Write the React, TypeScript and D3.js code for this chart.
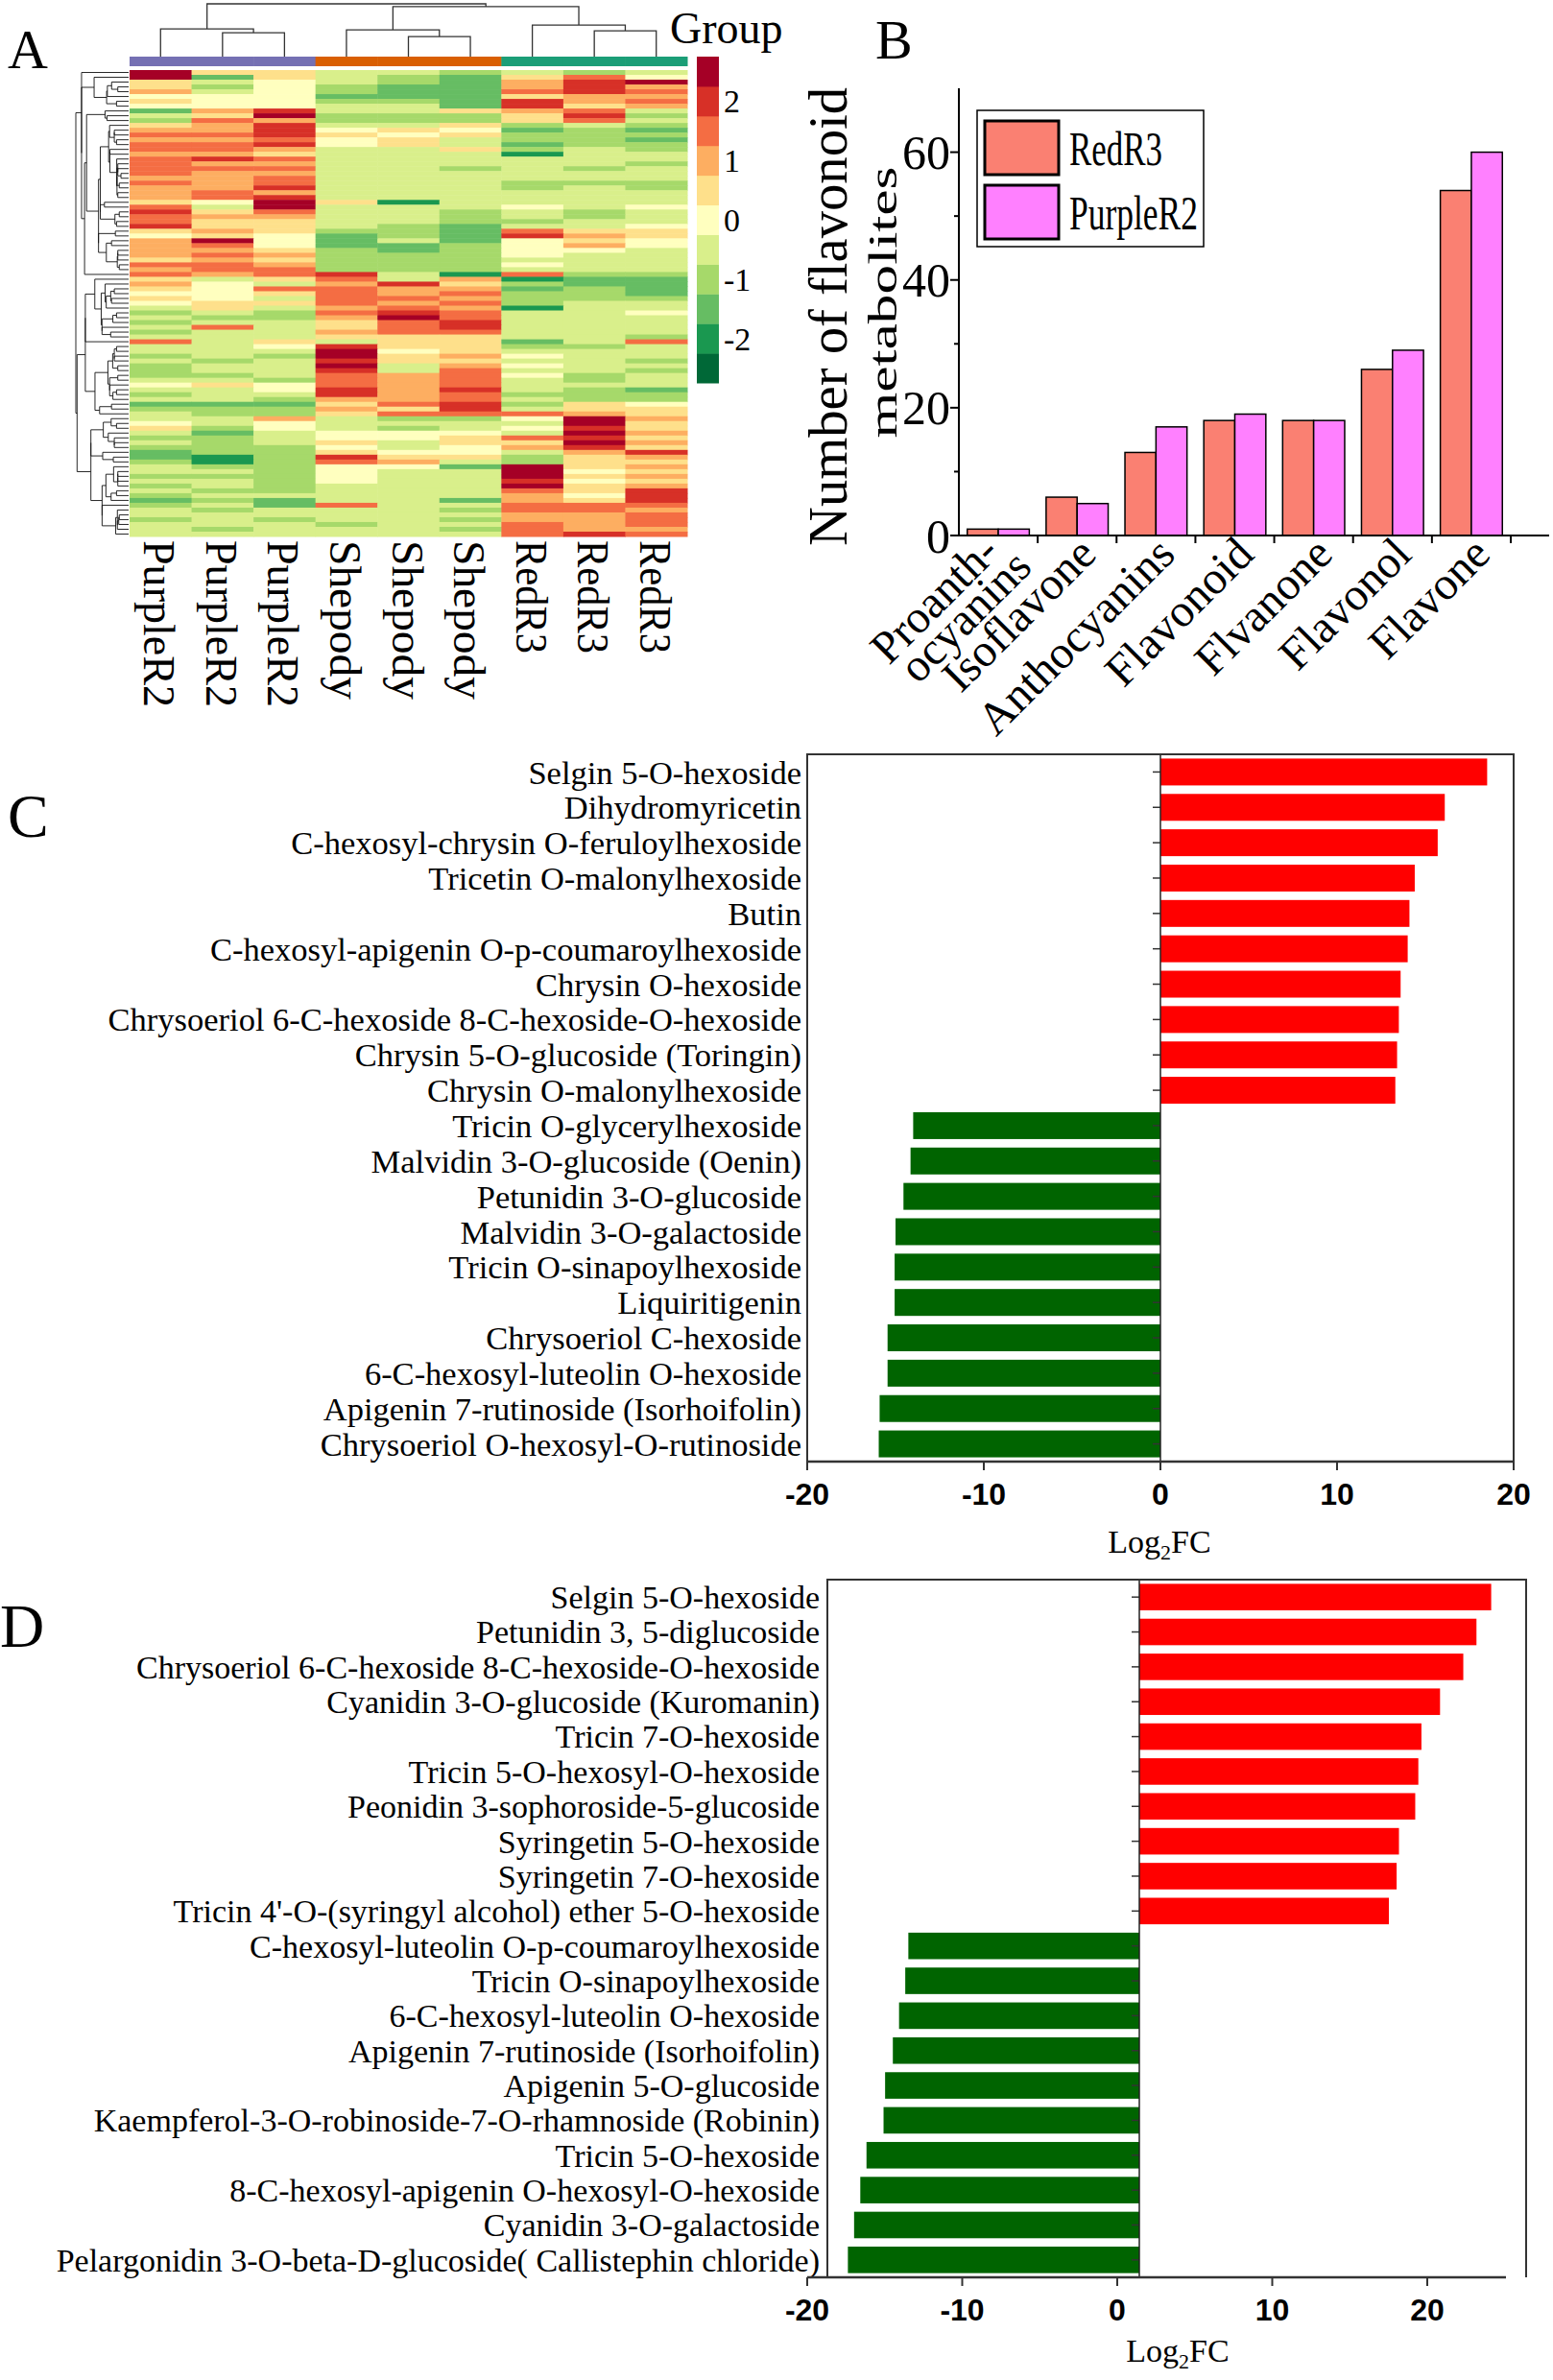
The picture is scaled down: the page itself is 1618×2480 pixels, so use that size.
import React from 'react';
import * as d3 from 'd3';

const SERIF = "'Liberation Serif','Times New Roman',serif";
const SANS = "'Liberation Sans',Arial,sans-serif";

// ---------------- Panel A data ----------------
const sampleNames = ['PurpleR2', 'PurpleR2', 'PurpleR2', 'Shepody', 'Shepody', 'Shepody', 'RedR3', 'RedR3', 'RedR3'];
const sampleGroup = [0, 0, 0, 1, 1, 1, 2, 2, 2];
const groupColors = ['#7570B3', '#D95F02', '#1B9E77'];
const heatColors = ['#006837', '#1A9850', '#66BD63', '#A6D96A', '#D9EF8B', '#FFFFBF', '#FEE08B', '#FDAE61', '#F46D43', '#D73027', '#A50026'];
const heatLevelCodes = 'abcdefghijk';
const heatLevelValues = [-2.5, -2, -1.5, -1, -0.5, 0, 0.5, 1, 1.5, 2, 2.5];
const colorbarTicks = [2, 1, 0, -1, -2];
// one string per metabolite row, one code per sample (a = -2.5 ... k = +2.5)
const heatRows = [
  'kggeedede', 'kcgedcgif', 'gefedchjk', 'gdfdcchjh', 'hefdcciji', 'fffcccghh', 'gffddcjhi', 'fffeecjgh',
  'chjeeghie', 'egkdddgjd', 'dihdddgie', 'ghjeegded', 'hhjfgfcdc', 'iijgfgddd', 'hhifgeddc', 'iijfgecdd',
  'iiheegded', 'hhgeeebee', 'ijieeeeee', 'ihheeeeed', 'iiieedede', 'ihheeeeee', 'hhieeeeee', 'ihieeeddd',
  'hhjeeeded', 'hiheeeeee', 'hijeeeeee', 'gfkgbeeee', 'iekeeefef', 'jgieedede', 'ihheedede', 'iggeeddee',
  'jggedceef', 'ghgddcigg', 'fgfcdcjhg', 'hkfcecfgf', 'hifccdfhf', 'hhgdcdffe', 'hihdddfee', 'ghgdddeee',
  'iihdddfee', 'hiidddeee', 'ihijebidd', 'gegiehbcc', 'hfehjgdcc', 'gfiihhcdc', 'ffgihiddc', 'gfeiihddd',
  'fggihidee', 'egehihbee', 'dedijieef', 'eddhkieee', 'deegijeee', 'eiegijeee', 'deehiieee', 'eeegggeed',
  'iegeggcei', 'eefjggdde', 'eeekfgeee', 'dedkghfee', 'edejggeed', 'deekehfee', 'deejeieed', 'ddeihifde',
  'eedihiede', 'fgfihieee', 'eefjhjedc', 'deejhiddd', 'eedhhiedd', 'cccgijdgf', 'dddhgjegg', 'eddgiiihg',
  'eeheddfkh', 'fefeeeekg', 'gdfedefjg', 'ecefffekh', 'ddeffgijg', 'edegeggkh', 'dddfefhjg', 'cddgffehj',
  'cbdjggdgh', 'dbdihedgg', 'eddffckgh', 'eedfeekfg', 'dddfeekgh', 'eedfeejfg', 'dedeeekgh', 'eddeeeigj',
  'deeeeehfj', 'cdceechgj', 'decieeiii', 'edeeediih', 'eeeeeehhi', 'dedeedhhi', 'eeedeeihi', 'edeeedihh',
  'eeeeeeiji',
];
// sample clustering (merge heights, arbitrary units)
const colDendrogram: any = {
  height: 55.2,
  children: [
    { height: 29, children: [{ leaf: 0 }, { height: 25, children: [{ leaf: 1 }, { leaf: 2 }] }] },
    {
      height: 52.4,
      children: [
        { height: 28, children: [{ leaf: 3 }, { height: 21, children: [{ leaf: 4 }, { leaf: 5 }] }] },
        { height: 33, children: [{ leaf: 6 }, { height: 27, children: [{ leaf: 7 }, { leaf: 8 }] }] },
      ],
    },
  ],
};

// ---------------- Panel B data ----------------
const flavClasses = ['Proanth-\nocyanins', 'Isoflavone', 'Anthocyanins', 'Flavonoid', 'Flvanone', 'Flavonol', 'Flavone'];
const redR3Counts = [1, 6, 13, 18, 18, 26, 54];
const purpleR2Counts = [1, 5, 17, 19, 18, 29, 60];
const bSeriesNames = ['RedR3', 'PurpleR2'];
const bSeriesColors = ['#FA8072', '#FF80FF'];
const bMajorTicks = [0, 20, 40, 60];
const bMinorTicks = [10, 30, 50];

// ---------------- Panel C data ----------------
const cNames = [
  'Selgin 5-O-hexoside', 'Dihydromyricetin', 'C-hexosyl-chrysin O-feruloylhexoside', 'Tricetin O-malonylhexoside',
  'Butin', 'C-hexosyl-apigenin O-p-coumaroylhexoside', 'Chrysin O-hexoside',
  'Chrysoeriol 6-C-hexoside 8-C-hexoside-O-hexoside', 'Chrysin 5-O-glucoside (Toringin)', 'Chrysin O-malonylhexoside',
  'Tricin O-glycerylhexoside', 'Malvidin 3-O-glucoside (Oenin)', 'Petunidin 3-O-glucoside', 'Malvidin 3-O-galactoside',
  'Tricin O-sinapoylhexoside', 'Liquiritigenin', 'Chrysoeriol C-hexoside', '6-C-hexosyl-luteolin O-hexoside',
  'Apigenin 7-rutinoside (Isorhoifolin)', 'Chrysoeriol O-hexosyl-O-rutinoside',
];
const cLog2FC = [18.5, 16.1, 15.7, 14.4, 14.1, 14.0, 13.6, 13.5, 13.4, 13.3, -14.0, -14.15, -14.55, -15.0, -15.05, -15.05, -15.45, -15.45, -15.9, -15.95];

// ---------------- Panel D data ----------------
const dNames = [
  'Selgin 5-O-hexoside', 'Petunidin 3, 5-diglucoside', 'Chrysoeriol 6-C-hexoside 8-C-hexoside-O-hexoside',
  'Cyanidin 3-O-glucoside (Kuromanin)', 'Tricin 7-O-hexoside', 'Tricin 5-O-hexosyl-O-hexoside',
  'Peonidin 3-sophoroside-5-glucoside', 'Syringetin 5-O-hexoside', 'Syringetin 7-O-hexoside',
  "Tricin 4'-O-(syringyl alcohol) ether 5-O-hexoside", 'C-hexosyl-luteolin O-p-coumaroylhexoside',
  'Tricin O-sinapoylhexoside', '6-C-hexosyl-luteolin O-hexoside', 'Apigenin 7-rutinoside (Isorhoifolin)',
  'Apigenin 5-O-glucoside', 'Kaempferol-3-O-robinoside-7-O-rhamnoside (Robinin)', 'Tricin 5-O-hexoside',
  '8-C-hexosyl-apigenin O-hexosyl-O-hexoside', 'Cyanidin 3-O-galactoside',
  'Pelargonidin 3-O-beta-D-glucoside( Callistephin chloride)',
];
const dLog2FC = [22.7, 21.75, 20.9, 19.4, 18.2, 18.0, 17.8, 16.75, 16.6, 16.1, -14.9, -15.1, -15.5, -15.9, -16.4, -16.5, -17.6, -18.0, -18.4, -18.8];

const fcTicks = [-20, -10, 0, 10, 20];
const upColor = '#FF0000';
const downColor = '#006400';

// ---------------- helpers ----------------
function orderedClustering(mat: number[][]) {
  const D = mat.map((a) => mat.map((b) => Math.sqrt(d3.sum(a, (v, i) => (v - b[i]) ** 2))));
  let cl: any[] = mat.map((_, i) => ({ members: [i], h: 0, idx: i }));
  while (cl.length > 1) {
    let bi = 0;
    let bd = Infinity;
    for (let i = 0; i < cl.length - 1; i++) {
      const A = cl[i].members;
      const B = cl[i + 1].members;
      let s = 0;
      for (const a of A) for (const b of B) s += D[a][b];
      const d = s / (A.length * B.length);
      if (d < bd) { bd = d; bi = i; }
    }
    const l = cl[bi];
    const r = cl[bi + 1];
    cl.splice(bi, 2, { members: [...l.members, ...r.members], h: Math.max(bd, l.h, r.h), left: l, right: r });
  }
  return cl[0];
}

function PanelA() {
  const values = heatRows.map((s) => s.split('').map((c) => heatLevelValues[heatLevelCodes.indexOf(c)]));
  const xCol = d3.scaleBand<number>().domain(d3.range(9)).range([135, 716]);
  const yRow = d3.scaleBand<number>().domain(d3.range(values.length)).range([73, 559]);
  const color = d3.scaleQuantize<string>().domain([-2.75, 2.75]).range(heatColors);

  const cells: any[] = [];
  values.forEach((row, ri) =>
    row.forEach((v, ci) =>
      cells.push(
        <rect key={`c${ri}-${ci}`} x={xCol(ci)} y={yRow(ri)} width={xCol.bandwidth() + 0.5} height={yRow.bandwidth() + 0.5} fill={color(v)} />
      )
    )
  );

  // row dendrogram
  const root = orderedClustering(values);
  const xDen = d3.scaleLinear().domain([0, root.h]).range([134, 79]);
  const rowSegs: any[] = [];
  const walk = (n: any): number => {
    if (n.idx !== undefined) return (yRow(n.idx) as number) + yRow.bandwidth() / 2;
    const yl = walk(n.left);
    const yr = walk(n.right);
    const x = xDen(n.h);
    rowSegs.push(`M${x},${yl}V${yr}`);
    rowSegs.push(`M${x},${yl}H${xDen(n.left.h)}`);
    rowSegs.push(`M${x},${yr}H${xDen(n.right.h)}`);
    return (yl + yr) / 2;
  };
  walk(root);

  // column dendrogram
  const yDen = d3.scaleLinear().domain([0, 55.2]).range([59, 4]);
  const colSegs: string[] = [];
  const walkCol = (n: any): { x: number; y: number } => {
    if (n.leaf !== undefined) return { x: (xCol(n.leaf) as number) + xCol.bandwidth() / 2, y: yDen(0) };
    const a = walkCol(n.children[0]);
    const b = walkCol(n.children[1]);
    const y = yDen(n.height);
    colSegs.push(`M${a.x},${a.y}V${y}H${b.x}V${b.y}`);
    return { x: (a.x + b.x) / 2, y };
  };
  walkCol(colDendrogram);

  const yLeg = d3.scaleLinear().domain([-2.75, 2.75]).range([399, 59]);
  const labelLen: Record<string, number> = { PurpleR2: 174, Shepody: 166, RedR3: 118 };

  return (
    <g>
      <text x={8} y={71} fontSize={58} fontFamily={SERIF}>A</text>
      <path d={colSegs.join('')} fill="none" stroke="#333" strokeWidth={1.3} />
      {sampleGroup.map((g, i) => (
        <rect key={`g${i}`} x={xCol(i)} y={59} width={xCol.bandwidth() + 0.5} height={10} fill={groupColors[g]} />
      ))}
      {cells}
      <path d={rowSegs.join('')} fill="none" stroke="#111" strokeWidth={0.9} />
      {heatColors.map((c, i) => (
        <rect key={`lb${i}`} x={726} width={23} y={yLeg(-2.75 + 0.5 * (i + 1))} height={yLeg(-2.75 + 0.5 * i) - yLeg(-2.75 + 0.5 * (i + 1)) + 0.5} fill={c} />
      ))}
      {colorbarTicks.map((t) => (
        <text key={`lt${t}`} x={754} y={yLeg(t)} dy="0.35em" fontSize={34} fontFamily={SERIF}>{t}</text>
      ))}
      <text x={698} y={45} fontSize={46} fontFamily={SERIF}>Group</text>
      {sampleNames.map((s, i) => (
        <text
          key={`sn${i}`}
          transform={`translate(${(xCol(i) as number) + xCol.bandwidth() / 2 - 17},563) rotate(90)`}
          fontSize={46}
          fontFamily={SERIF}
          textLength={labelLen[s]}
          lengthAdjust="spacingAndGlyphs"
        >
          {s}
        </text>
      ))}
    </g>
  );
}

function PanelB() {
  const x0 = d3.scaleBand<string>().domain(flavClasses).range([999, 1574]).paddingInner(0.213).paddingOuter(0.1065);
  const x1 = d3.scaleBand<string>().domain(bSeriesNames).range([0, x0.bandwidth()]);
  const y = d3.scaleLinear().domain([0, 70]).range([558, 92]);
  const series = [redR3Counts, purpleR2Counts];
  const y0 = y(0);
  return (
    <g>
      <text x={912} y={61} fontSize={58} fontFamily={SERIF}>B</text>
      {flavClasses.map((c, ci) =>
        series.map((vals, si) => (
          <rect
            key={`b${ci}-${si}`}
            x={(x0(c) as number) + (x1(bSeriesNames[si]) as number)}
            y={y(vals[ci])}
            width={x1.bandwidth()}
            height={y0 - y(vals[ci])}
            fill={bSeriesColors[si]}
            stroke="#000"
            strokeWidth={1.5}
          />
        ))
      )}
      {/* axes */}
      <line x1={999} x2={999} y1={y(70)} y2={y0} stroke="#000" strokeWidth={2} />
      <line x1={999} x2={1614} y1={y0} y2={y0} stroke="#000" strokeWidth={2} />
      {bMajorTicks.map((t) => (
        <g key={`bt${t}`}>
          <line x1={990} x2={999} y1={y(t)} y2={y(t)} stroke="#000" strokeWidth={2} />
          <text x={990} y={y(t)} dy="0.35em" textAnchor="end" fontSize={50} fontFamily={SERIF}>{t}</text>
        </g>
      ))}
      {bMinorTicks.map((t) => (
        <line key={`bm${t}`} x1={994} x2={999} y1={y(t)} y2={y(t)} stroke="#000" strokeWidth={2} />
      ))}
      {flavClasses.map((c, i) => (
        <line key={`bx${i}`} x1={(x0(c) as number) + x0.step() * (1 - 0.1065)} x2={(x0(c) as number) + x0.step() * (1 - 0.1065)} y1={y0} y2={y0 + 8} stroke="#000" strokeWidth={2} />
      ))}
      {flavClasses.map((c, i) => {
        const cx = (x0(c) as number) + x0.bandwidth() / 2;
        const lines = c.split('\n');
        return lines.map((ln, k) => {
          const ox = lines.length > 1 ? (k === 0 ? -19 : 15) : 0;
          const oy = lines.length > 1 ? (k === 0 ? -3 : 13) : 0;
          return (
            <text
              key={`bl${i}-${k}`}
              transform={`translate(${cx + 22 + ox},${y0 + 22 + oy}) rotate(-45)`}
              textAnchor="end"
              fontSize={48}
              fontFamily={SERIF}
            >
              {ln}
            </text>
          );
        });
      })}
      <text transform={`translate(882,330) rotate(-90)`} textAnchor="middle" fontSize={56} fontFamily={SERIF} textLength={478} lengthAdjust="spacingAndGlyphs">
        Number of flavonoid
      </text>
      <text transform={`translate(934,315) rotate(-90)`} textAnchor="middle" fontSize={42} fontFamily={SERIF} textLength={283} lengthAdjust="spacingAndGlyphs">
        metabolites
      </text>
      {/* legend */}
      <rect x={1018} y={115} width={236} height={142} fill="#fff" stroke="#000" strokeWidth={1.5} />
      {bSeriesNames.map((s, i) => (
        <g key={`lg${i}`}>
          <rect x={1026} y={126 + i * 67} width={77} height={56} fill={bSeriesColors[i]} stroke="#000" strokeWidth={3} />
          <text x={1114} y={172 + i * 67} fontSize={51} fontFamily={SERIF} textLength={s === 'RedR3' ? 97 : 134} lengthAdjust="spacingAndGlyphs">
            {s}
          </text>
        </g>
      ))}
    </g>
  );
}

function FCPanel(props: {
  letter: string; letterX: number; letterY: number; names: string[]; values: number[];
  axisX: [number, number]; axisEnd: number; frameL: number; frameR: number; top: number; bottom: number;
  barShift: number; labelRight: number; labelSize: number; titleX: number; titleDy: number;
}) {
  const { letter, letterX, letterY, names, values, axisX, axisEnd, frameL, frameR, top, bottom, barShift, labelRight, labelSize, titleX, titleDy } = props;
  const x = d3.scaleLinear().domain([-20, 20]).range(axisX);
  const y = d3.scaleBand<number>().domain(d3.range(names.length)).range([top, bottom]).paddingInner(0.24).paddingOuter(0.12);
  const xb = (v: number) => x(v) + barShift;
  const zero = xb(0);
  return (
    <g>
      <text x={letterX} y={letterY} fontSize={64} fontFamily={SERIF}>{letter}</text>
      {values.map((v, i) => (
        <rect
          key={`r${i}`}
          x={Math.min(zero, xb(v))}
          y={y(i)}
          width={Math.abs(xb(v) - zero)}
          height={y.bandwidth()}
          fill={v >= 0 ? upColor : downColor}
        />
      ))}
      {names.map((n, i) => (
        <g key={`n${i}`}>
          <line x1={zero - 8} x2={zero} y1={(y(i) as number) + y.bandwidth() / 2} y2={(y(i) as number) + y.bandwidth() / 2} stroke="#333" strokeWidth={1.5} />
          <text x={labelRight} y={(y(i) as number) + y.bandwidth() / 2} dy="0.35em" textAnchor="end" fontSize={labelSize} fontFamily={SERIF}>{n}</text>
        </g>
      ))}
      <line x1={zero} x2={zero} y1={top} y2={bottom} stroke="#222" strokeWidth={1.5} />
      <path d={`M${frameL},${bottom}V${top}H${frameR}V${bottom}`} fill="none" stroke="#333" strokeWidth={2} />
      <line x1={axisX[0]} x2={axisEnd} y1={bottom} y2={bottom} stroke="#333" strokeWidth={2.5} />
      {fcTicks.map((t) => (
        <g key={`t${t}`}>
          <line x1={x(t)} x2={x(t)} y1={bottom} y2={bottom + 9} stroke="#333" strokeWidth={2} />
          <text x={x(t)} y={bottom + 34} dy="0.35em" textAnchor="middle" fontSize={32} fontWeight="bold" fontFamily={SANS}>{t}</text>
        </g>
      ))}
      <text x={titleX} y={bottom + titleDy} textAnchor="middle" fontSize={34} fontFamily={SERIF}>
        Log<tspan fontSize={22} dy={7}>2</tspan><tspan dy={-7}>FC</tspan>
      </text>
    </g>
  );
}

export default function App() {
  return (
    <svg width={1618} height={2480} style={{ position: 'absolute', left: 0, top: 0, background: '#fff' }} fontFamily={SERIF}>
      <rect x={0} y={0} width={1618} height={2480} fill="#fff" />
      <PanelA />
      <PanelB />
      <FCPanel
        letter="C" letterX={8} letterY={872} names={cNames} values={cLog2FC}
        axisX={[841, 1577]} axisEnd={1577} frameL={841} frameR={1577} top={786} bottom={1523}
        barShift={0} labelRight={835} labelSize={34.5} titleX={1208} titleDy={95}
      />
      <FCPanel
        letter="D" letterX={0} letterY={1716} names={dNames} values={dLog2FC}
        axisX={[841, 1487]} axisEnd={1569} frameL={862} frameR={1590} top={1646} bottom={2373}
        barShift={23} labelRight={854} labelSize={34} titleX={1227} titleDy={88}
      />
    </svg>
  );
}
